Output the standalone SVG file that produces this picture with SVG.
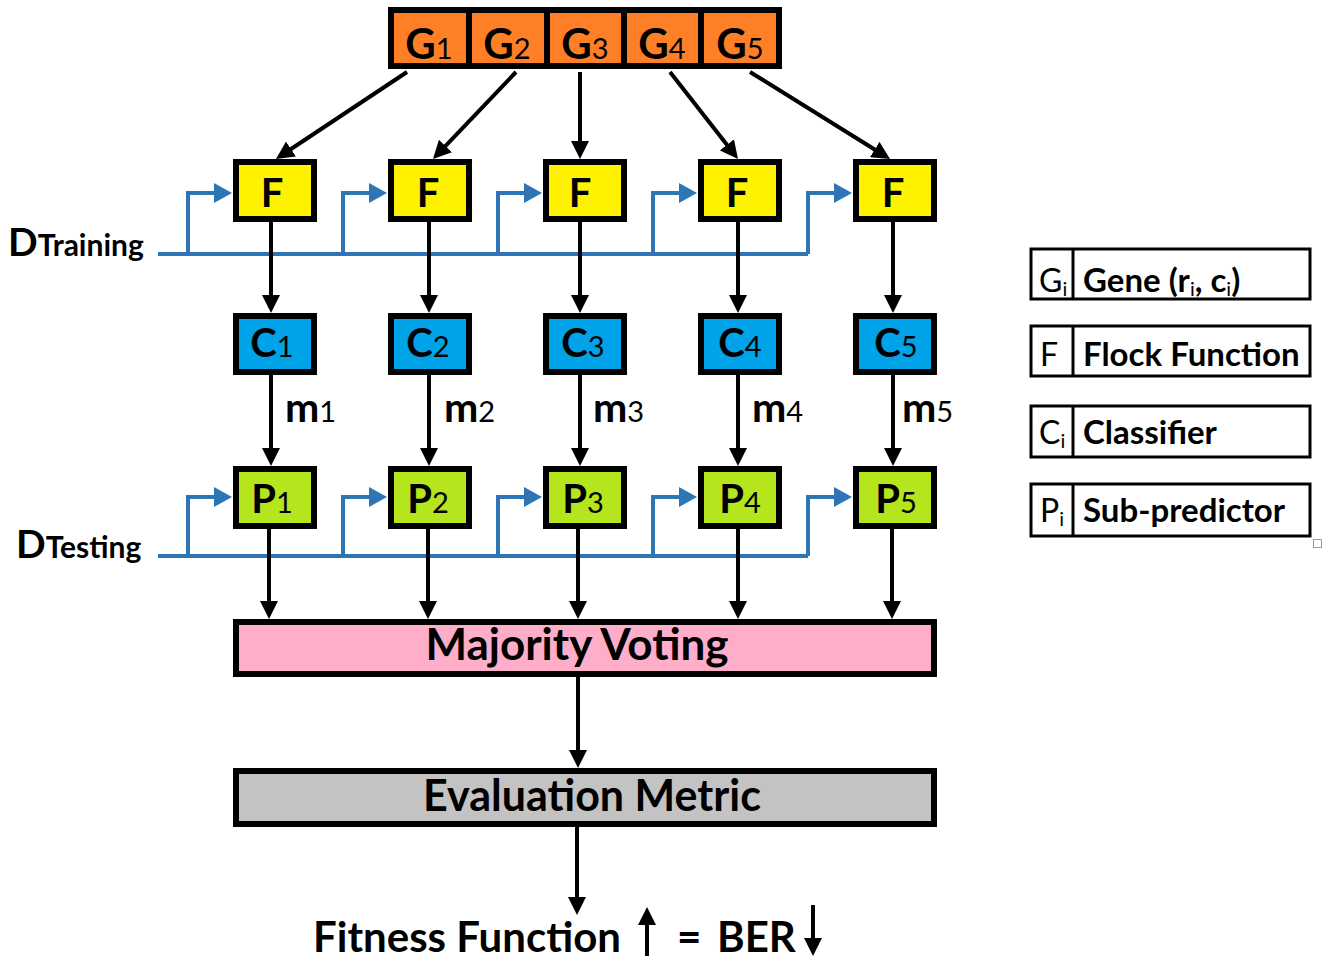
<svg xmlns="http://www.w3.org/2000/svg" width="1328" height="961" viewBox="0 0 1328 961">
<style>
  text{font-family:Lato,"Liberation Sans",sans-serif;fill:#000}
  .b{font-weight:bold}
  .r{font-weight:normal}
  .bx{stroke:#000;stroke-width:6}
  .gene{fill:#FF7F27}
  .f{fill:#FFF200}
  .c{fill:#00A2E8}
  .p{fill:#B5E61D}
  .lbl{font-weight:bold;font-size:40px;text-anchor:middle}
  .sub{font-weight:normal;font-size:29px}
  .blk{fill:none;stroke:#000;stroke-width:4;marker-end:url(#ab)}
  .blu{fill:none;stroke:#2E75B6;stroke-width:4}
  .blua{fill:none;stroke:#2E75B6;stroke-width:4;marker-end:url(#au)}
  .leg{fill:#fff;stroke:#000;stroke-width:3}
  .lt{font-size:33px;font-weight:bold}
  .ll{font-size:32px;font-weight:normal}
</style>
<defs>
  <marker id="ab" viewBox="0 0 18 18" markerUnits="userSpaceOnUse" markerWidth="18" markerHeight="18" refX="8" refY="9" orient="auto">
    <path d="M0,0 L18,9 L0,18 z" fill="#000"/>
  </marker>
  <marker id="au" viewBox="0 0 18 20" markerUnits="userSpaceOnUse" markerWidth="18" markerHeight="20" refX="8" refY="10" orient="auto">
    <path d="M0,0 L18,10 L0,20 z" fill="#2E75B6"/>
  </marker>
</defs>
<rect width="1328" height="961" fill="#fff"/>

<g id="connectors">
  <!-- training data bus -->
  <path class="blu" d="M158,254 H808"/>
  <path class="blua" d="M188,254 V193 H222"/>
  <path class="blua" d="M343,254 V193 H377"/>
  <path class="blua" d="M498,254 V193 H532"/>
  <path class="blua" d="M653,254 V193 H687"/>
  <path class="blua" d="M808,254 V193 H842"/>
  <!-- testing data bus -->
  <path class="blu" d="M158,556 H808"/>
  <path class="blua" d="M188,556 V497 H222"/>
  <path class="blua" d="M343,556 V497 H377"/>
  <path class="blua" d="M498,556 V497 H532"/>
  <path class="blua" d="M653,556 V497 H687"/>
  <path class="blua" d="M808,556 V497 H842"/>
  <!-- genes to F -->
  <path class="blk" d="M407,72 L284.3,153.5"/>
  <path class="blk" d="M516,72 L439.9,151.8"/>
  <path class="blk" d="M580,72 L580,149"/>
  <path class="blk" d="M670,72 L731.8,151.1"/>
  <path class="blk" d="M750,72 L881.5,153.7"/>
  <!-- F to C -->
  <path class="blk" d="M271,222 V303"/>
  <path class="blk" d="M429,222 V303"/>
  <path class="blk" d="M580,222 V303"/>
  <path class="blk" d="M738,222 V303"/>
  <path class="blk" d="M893,222 V303"/>
  <!-- C to P -->
  <path class="blk" d="M271,375 V456"/>
  <path class="blk" d="M429,375 V456"/>
  <path class="blk" d="M580,375 V456"/>
  <path class="blk" d="M738,375 V456"/>
  <path class="blk" d="M893,375 V456"/>
  <!-- P to majority -->
  <path class="blk" d="M269,529 V609"/>
  <path class="blk" d="M428,529 V609"/>
  <path class="blk" d="M578,529 V609"/>
  <path class="blk" d="M738,529 V609"/>
  <path class="blk" d="M892,529 V609"/>
  <!-- majority to eval, eval to fitness -->
  <path class="blk" d="M578,677 V758"/>
  <path class="blk" d="M577,827 V905"/>
  <!-- m labels -->
  <text class="b" font-size="41" x="285" y="422">m<tspan class="sub" font-size="30">1</tspan></text>
  <text class="b" font-size="41" x="444" y="422">m<tspan class="sub" font-size="30">2</tspan></text>
  <text class="b" font-size="41" x="593" y="422">m<tspan class="sub" font-size="30">3</tspan></text>
  <text class="b" font-size="41" x="752" y="422">m<tspan class="sub" font-size="30">4</tspan></text>
  <text class="b" font-size="41" x="902" y="422">m<tspan class="sub" font-size="30">5</tspan></text>
</g>

<g id="genes">
  <rect x="388" y="7" width="394" height="62" fill="#000"/>
  <rect class="gene" x="394" y="13" width="72" height="50"/>
  <rect class="gene" x="472" y="13" width="72" height="50"/>
  <rect class="gene" x="550" y="13" width="71" height="50"/>
  <rect class="gene" x="627" y="13" width="71" height="50"/>
  <rect class="gene" x="704" y="13" width="72" height="50"/>
  <text class="b" font-size="42" text-anchor="middle" x="429" y="59">G<tspan class="sub" font-size="31">1</tspan></text>
  <text class="b" font-size="42" text-anchor="middle" x="507" y="59">G<tspan class="sub" font-size="31">2</tspan></text>
  <text class="b" font-size="42" text-anchor="middle" x="585" y="59">G<tspan class="sub" font-size="31">3</tspan></text>
  <text class="b" font-size="42" text-anchor="middle" x="662" y="59">G<tspan class="sub" font-size="31">4</tspan></text>
  <text class="b" font-size="42" text-anchor="middle" x="740" y="59">G<tspan class="sub" font-size="31">5</tspan></text>
</g>

<g id="F1"><rect class="bx f" x="236" y="162" width="78" height="57"/><text class="lbl" x="272" y="207">F</text></g>
<g id="F2"><rect class="bx f" x="391" y="162" width="78" height="57"/><text class="lbl" x="428" y="207">F</text></g>
<g id="F3"><rect class="bx f" x="546" y="162" width="78" height="57"/><text class="lbl" x="580" y="207">F</text></g>
<g id="F4"><rect class="bx f" x="701" y="162" width="78" height="57"/><text class="lbl" x="737" y="207">F</text></g>
<g id="F5"><rect class="bx f" x="856" y="162" width="78" height="57"/><text class="lbl" x="893" y="207">F</text></g>

<g id="C1"><rect class="bx c" x="236" y="316" width="78" height="56"/><text class="lbl" x="272" y="357">C<tspan class="sub">1</tspan></text></g>
<g id="C2"><rect class="bx c" x="391" y="316" width="78" height="56"/><text class="lbl" x="428" y="357">C<tspan class="sub">2</tspan></text></g>
<g id="C3"><rect class="bx c" x="546" y="316" width="78" height="56"/><text class="lbl" x="583" y="357">C<tspan class="sub">3</tspan></text></g>
<g id="C4"><rect class="bx c" x="701" y="316" width="78" height="56"/><text class="lbl" x="740" y="357">C<tspan class="sub">4</tspan></text></g>
<g id="C5"><rect class="bx c" x="856" y="316" width="78" height="56"/><text class="lbl" x="896" y="357">C<tspan class="sub">5</tspan></text></g>

<g id="P1"><rect class="bx p" x="236" y="469" width="78" height="57"/><text class="lbl" x="272" y="513">P<tspan class="sub">1</tspan></text></g>
<g id="P2"><rect class="bx p" x="391" y="469" width="78" height="57"/><text class="lbl" x="428" y="513">P<tspan class="sub">2</tspan></text></g>
<g id="P3"><rect class="bx p" x="546" y="469" width="78" height="57"/><text class="lbl" x="583" y="513">P<tspan class="sub">3</tspan></text></g>
<g id="P4"><rect class="bx p" x="701" y="469" width="78" height="57"/><text class="lbl" x="740" y="513">P<tspan class="sub">4</tspan></text></g>
<g id="P5"><rect class="bx p" x="856" y="469" width="78" height="57"/><text class="lbl" x="896" y="513">P<tspan class="sub">5</tspan></text></g>

<g id="d-training"><text class="b" x="8" y="256" font-size="39">D<tspan font-size="30">Training</tspan></text></g>
<g id="d-testing"><text class="b" x="16" y="558" font-size="39">D<tspan font-size="30">Testing</tspan></text></g>

<g id="majority-voting"><rect class="bx" fill="#FFAEC9" x="236" y="622" width="698" height="52"/><text class="b" font-size="44" text-anchor="middle" x="577" y="660">Majority Voting</text></g>
<g id="evaluation-metric"><rect class="bx" fill="#C3C3C3" x="236" y="771" width="698" height="53"/><text class="b" font-size="43" text-anchor="middle" x="592" y="811">Evaluation Metric</text></g>

<g id="fitness">
  <text class="b" font-size="42" x="313" y="952">Fitness Function</text>
  <path class="blk" d="M647,956 V917"/>
  <text class="b" font-size="42" x="677" y="952">=</text>
  <text class="b" font-size="42" x="717" y="952">BER</text>
  <path class="blk" d="M813,905 V946"/>
</g>

<g id="legend">
  <g id="legend-gene">
    <rect class="leg" x="1031" y="249" width="279" height="50"/>
    <line x1="1073" y1="249" x2="1073" y2="299" stroke="#000" stroke-width="3"/>
    <text class="ll" x="1039" y="292" font-weight="500">G<tspan font-size="20" dy="4">i</tspan></text>
    <text class="lt" x="1083" y="292">Gene (r<tspan font-size="20" font-weight="normal" dy="4">i</tspan><tspan dy="-4">, c</tspan><tspan font-size="20" font-weight="normal" dy="4">i</tspan><tspan dy="-4">)</tspan></text>
  </g>
  <g id="legend-flock">
    <rect class="leg" x="1031" y="326" width="279" height="50"/>
    <line x1="1073" y1="326" x2="1073" y2="376" stroke="#000" stroke-width="3"/>
    <text class="ll" x="1040" y="366">F</text>
    <text class="lt" x="1083" y="366">Flock Function</text>
  </g>
  <g id="legend-classifier">
    <rect class="leg" x="1031" y="406" width="279" height="51"/>
    <line x1="1073" y1="406" x2="1073" y2="457" stroke="#000" stroke-width="3"/>
    <text class="ll" x="1039" y="444">C<tspan font-size="20" dy="4">i</tspan></text>
    <text class="lt" x="1083" y="444">Classifier</text>
  </g>
  <g id="legend-subpredictor">
    <rect class="leg" x="1031" y="484" width="279" height="52"/>
    <line x1="1073" y1="484" x2="1073" y2="536" stroke="#000" stroke-width="3"/>
    <text class="ll" x="1040" y="522">P<tspan font-size="20" dy="4">i</tspan></text>
    <text class="lt" x="1083" y="522">Sub-predictor</text>
  </g>
  <rect x="1313.5" y="539.5" width="8" height="8" fill="#fff" stroke="#999" stroke-width="1"/>
</g>
</svg>
